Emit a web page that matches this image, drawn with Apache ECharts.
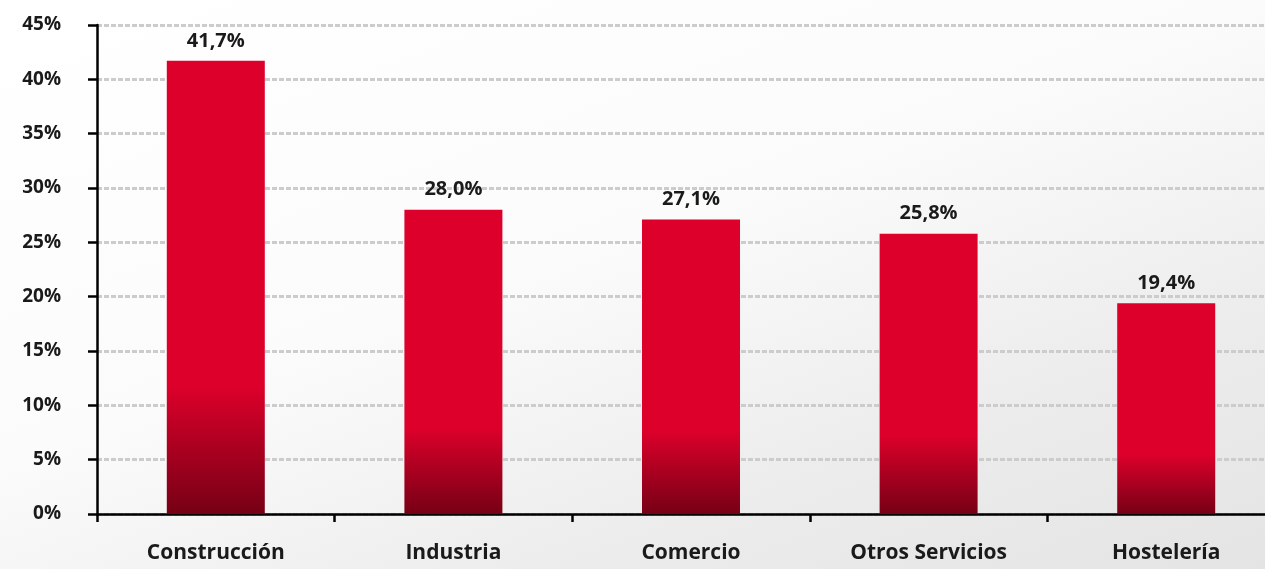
<!DOCTYPE html>
<html>
<head>
<meta charset="utf-8">
<script src="https://cdn.jsdelivr.net/npm/echarts@6/dist/echarts.min.js"></script>
<style>
  html, body { margin: 0; padding: 0; }
  body {
    width: 1265px; height: 569px; overflow: hidden;
    background: linear-gradient(160deg, #ffffff 0%, #fbfbfb 45%, #ececec 75%, #e4e4e4 100%);
  }
  /* wider than the window: the plot runs past the right edge, like the original slide */
  #chart { width: 1290px; height: 569px; }
</style>
</head>
<body>
<div id="chart"></div>
<script>
// sectors and share (%)
const categories = ['Construcción', 'Industria', 'Comercio', 'Otros Servicios', 'Hostelería'];
const shares = [41.7, 28.0, 27.1, 25.8, 19.4];
const yTicks = [0, 5, 10, 15, 20, 25, 30, 35, 40, 45];

const fmt = v => v.toFixed(1).replace('.', ',') + '%';

const chart = echarts.init(document.getElementById('chart'));

chart.setOption({
  backgroundColor: 'transparent',
  animation: false,
  grid: { left: 97, right: 5, top: 25, bottom: 55 },
  xAxis: {
    type: 'category',
    data: categories,
    axisLine: { lineStyle: { color: '#000', width: 2.5 } },
    axisTick: { show: true, length: 8, lineStyle: { color: '#000', width: 2.5 } },
    axisLabel: {
      margin: 29,
      color: '#1a1a1a',
      fontFamily: 'Open Sans',
      fontWeight: 'bold',
      fontSize: 21
    }
  },
  yAxis: {
    type: 'value',
    min: yTicks[0],
    max: yTicks[yTicks.length - 1],
    interval: 5,
    axisLine: { show: true, lineStyle: { color: '#000', width: 2.5 } },
    axisTick: { show: true, length: 9, lineStyle: { color: '#000', width: 2.5 } },
    axisLabel: {
      margin: 36,
      color: '#1a1a1a',
      fontFamily: 'Open Sans',
      fontWeight: 'bold',
      fontSize: 19,
      formatter: v => v + '%'
    },
    splitLine: {
      show: true,
      lineStyle: { color: '#cccccc', width: 3, type: [5, 2] }
    }
  },
  series: [{
    type: 'bar',
    data: shares,
    barWidth: 98,
    itemStyle: {
      color: new echarts.graphic.LinearGradient(0, 0, 0, 1, [
        { offset: 0, color: '#dc002b' },
        { offset: 0.72, color: '#dc002b' },
        { offset: 1, color: '#760015' }
      ])
    },
    label: {
      show: true,
      position: 'top',
      distance: 10,
      color: '#1a1a1a',
      fontFamily: 'Open Sans',
      fontWeight: 'bold',
      fontSize: 20,
      formatter: p => fmt(p.value)
    }
  }]
});
</script>
</body>
</html>
